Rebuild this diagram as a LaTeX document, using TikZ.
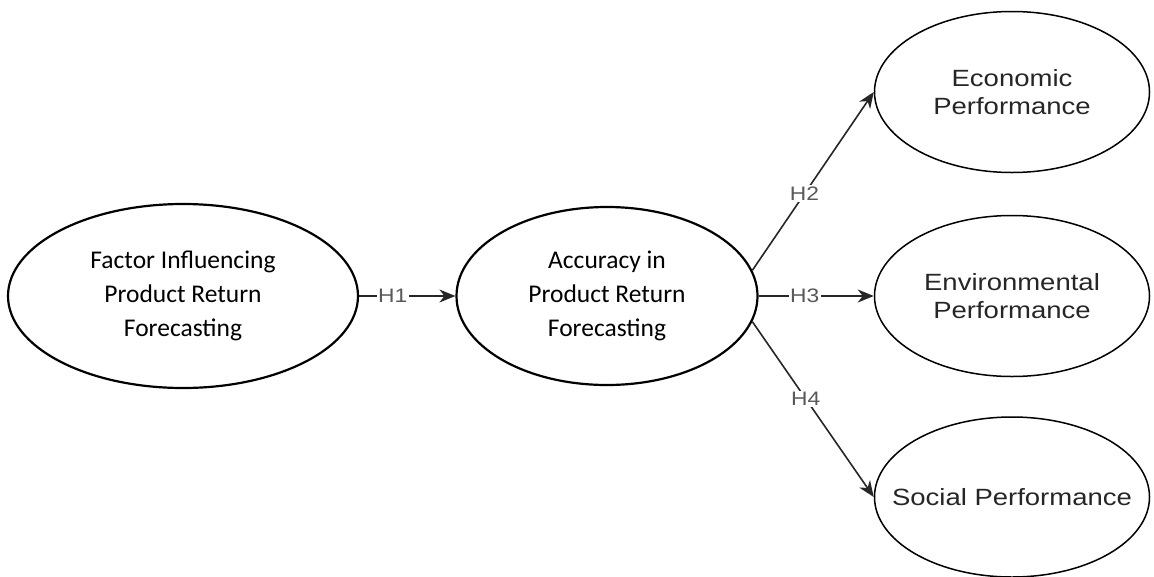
\documentclass[tikz,border=0pt]{standalone}
\usepackage{fontspec}
\usetikzlibrary{shapes.geometric,arrows.meta}
\newfontfamily\calibrifont{Carlito}
\newfontfamily\arialfont[FakeStretch=1.17]{Liberation Sans}

\begin{document}
\begin{tikzpicture}[x=1pt, y=-1pt,
    bigvar/.style={draw, ellipse, line width=2.2pt, inner sep=0pt, align=center,
        font=\calibrifont\fontsize{25.5}{34}\selectfont},
    smallvar/.style={draw, ellipse, line width=1.5pt, inner sep=0pt, align=center,
        minimum width=275pt, minimum height=161pt, text=black!85,
        font=\arialfont\fontsize{23.5}{28}\selectfont},
    hyp/.style={draw=black!85, line width=1.6pt, -{Stealth[length=16pt,width=13pt,inset=5pt]}},
    hlabel/.style={fill=white, inner sep=1.5pt, text=black!65,
        font=\arialfont\fontsize{19.5}{20}\selectfont}]
                \useasboundingbox (0,0) rectangle (1154,576);

                \node[bigvar, minimum width=350pt, minimum height=184pt] (factor) at (183,296)
                    {Factor Influencing\\Product Return\\Forecasting};
                \node[bigvar, minimum width=301pt, minimum height=178pt] (accuracy) at (607,296)
                    {Accuracy in\\Product Return\\Forecasting};
                \node[smallvar] (eco) at (1012,92) {Economic\\Performance};
                \node[smallvar] (env) at (1012,296) {Environmental\\Performance};
                \node[smallvar, minimum height=160pt] (soc) at (1012,497)
                    {\makebox[0pt]{Social Performance}};

                \draw[hyp] (factor) -- node[hlabel, pos=.35] {H1} (accuracy);
                \draw[hyp] (accuracy.10) -- node[hlabel, pos=.43] {H2} (eco.west);
                \draw[hyp] (accuracy) -- node[hlabel, pos=.4] {H3} (env);
                \draw[hyp] (accuracy.-10) -- node[hlabel, pos=.44] {H4} (soc.west);
            \end{tikzpicture}
\end{document}
